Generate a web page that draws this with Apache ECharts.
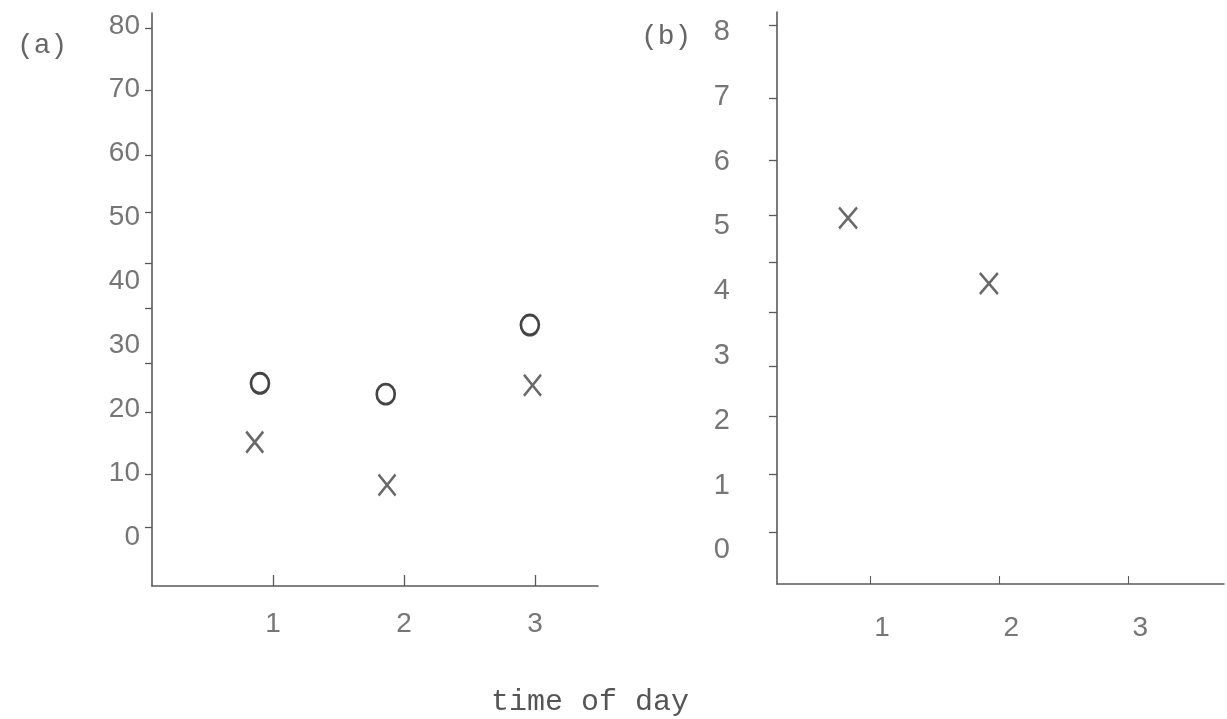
<!DOCTYPE html>
<html>
<head>
<meta charset="utf-8">
<script src="https://cdn.jsdelivr.net/npm/echarts@6/dist/echarts.min.js"></script>
<style>
  html, body { margin: 0; padding: 0; background: #ffffff; }
  #chart { width: 1227px; height: 719px; }
</style>
</head>
<body>
<div id="chart"></div>
<script>
// ---- data ----
// Panel (a)
const yLabelsA = [0, 10, 20, 30, 40, 50, 60, 70, 80];
const yTicksA = [1.6, 9.8, 19.6, 27.3, 35.9, 42.9, 50.9, 59.8, 69.9, 79.6];
const xTicksA = [1, 2, 3];
const circleAX = [0.90, 1.86, 2.96];
const circleAY = [24.1, 22.4, 33.2];
const crossAX = [0.86, 1.87, 2.98];
const crossAY = [14.9, 8.2, 23.8];
// Panel (b)
const yLabelsB = [0, 1, 2, 3, 4, 5, 6, 7, 8];
const yTicksB = [0.28, 1.18, 2.07, 2.84, 3.68, 4.45, 5.17, 6.02, 6.98, 8.10];
const xTicksB = [1, 2, 3];
const crossBX = [0.83, 1.92];
const crossBY = [5.13, 4.12];

const xName = 'time of day';

function pairs(xs, ys) { return xs.map((x, i) => [x, ys[i]]); }

const axisGray = '#5a5a5a';
const labelGray = '#767676';
const markGray = '#444444';
const digitFont = '"Liberation Sans", Arial, sans-serif';
const typeFont = '"Liberation Mono", "Courier New", monospace';
const crossPath = 'path://M0,0L10,12M10,0L0,12';

const chart = echarts.init(document.getElementById('chart'), null, { renderer: 'canvas' });

chart.setOption({
  backgroundColor: '#ffffff',
  animation: false,
  title: [
    { text: '(a)', left: 12, top: 27, textStyle: { fontFamily: typeFont, fontSize: 28, fontWeight: 'normal', color: '#666' } },
    { text: '(b)', left: 636, top: 18, textStyle: { fontFamily: typeFont, fontSize: 28, fontWeight: 'normal', color: '#666' } },
    { text: xName, left: 486, top: 682, textStyle: { fontFamily: typeFont, fontSize: 30, fontWeight: 'normal', color: '#555' } }
  ],
  grid: [
    { left: 152, top: 13, width: 446, height: 573 },
    { left: 777, top: 12, width: 447, height: 572 }
  ],
  xAxis: [
    {
      gridIndex: 0, type: 'value', min: 0.076, max: 3.48,
      axisLine: { show: true, onZero: false, lineStyle: { color: axisGray, width: 1.6 } },
      axisTick: { show: true, inside: true, length: 11, customValues: xTicksA, lineStyle: { color: axisGray, width: 1.3 } },
      axisLabel: { show: true, customValues: xTicksA, margin: 24, fontFamily: digitFont, fontSize: 28, color: labelGray },
      splitLine: { show: false }
    },
    {
      gridIndex: 1, type: 'value', min: 0.28, max: 3.74,
      axisLine: { show: true, onZero: false, lineStyle: { color: axisGray, width: 1.6 } },
      axisTick: { show: true, inside: true, length: 8, customValues: xTicksB, lineStyle: { color: axisGray, width: 1.1 } },
      axisLabel: { show: true, customValues: xTicksB, margin: 30, padding: [0, 0, 0, 24], fontFamily: digitFont, fontSize: 28, color: labelGray },
      splitLine: { show: false }
    }
  ],
  yAxis: [
    {
      gridIndex: 0, type: 'value', min: -7.6, max: 82,
      axisLine: { show: true, onZero: false, lineStyle: { color: axisGray, width: 1.6 } },
      axisTick: { show: true, inside: false, length: 7, customValues: yTicksA, lineStyle: { color: axisGray, width: 1.3 } },
      axisLabel: { show: true, customValues: yLabelsA, margin: 12, fontFamily: digitFont, fontSize: 28, color: labelGray },
      splitLine: { show: false }
    },
    {
      gridIndex: 1, type: 'value', min: -0.52, max: 8.31,
      axisLine: { show: true, onZero: false, lineStyle: { color: axisGray, width: 1.6 } },
      axisTick: { show: true, inside: false, length: 8, customValues: yTicksB, lineStyle: { color: axisGray, width: 1.3 } },
      axisLabel: { show: true, customValues: yLabelsB, margin: 47, fontFamily: digitFont, fontSize: 29, color: labelGray },
      splitLine: { show: false }
    }
  ],
  series: [
    {
      name: 'O', type: 'scatter', xAxisIndex: 0, yAxisIndex: 0,
      data: pairs(circleAX, circleAY),
      symbol: 'circle', symbolSize: [18, 20],
      itemStyle: { color: 'rgba(255,255,255,0)', borderColor: markGray, borderWidth: 2.8, opacity: 1 }
    },
    {
      name: 'X', type: 'scatter', xAxisIndex: 0, yAxisIndex: 0,
      data: pairs(crossAX, crossAY),
      symbol: crossPath, symbolSize: [17, 21],
      itemStyle: { color: 'rgba(255,255,255,0)', borderColor: markGray, borderWidth: 2.6 }
    },
    {
      name: 'Xb', type: 'scatter', xAxisIndex: 1, yAxisIndex: 1,
      data: pairs(crossBX, crossBY),
      symbol: crossPath, symbolSize: [18, 21],
      itemStyle: { color: 'rgba(255,255,255,0)', borderColor: markGray, borderWidth: 2.6 }
    }
  ]
});
</script>
</body>
</html>
